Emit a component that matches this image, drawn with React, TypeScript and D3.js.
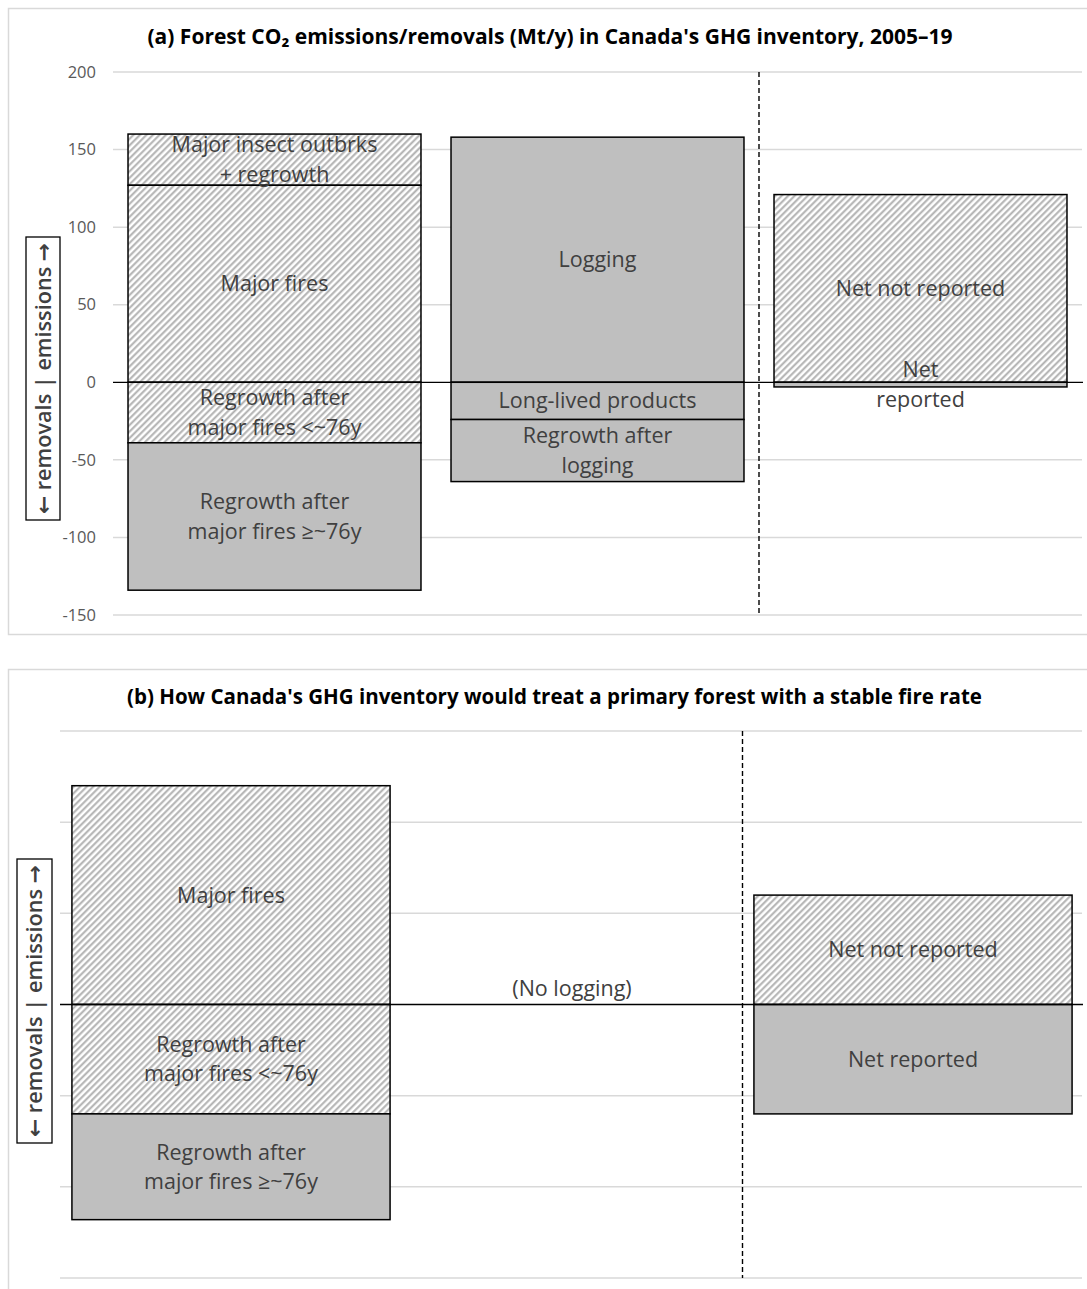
import React from "react";
import * as d3 from "d3";

// ---------- Data ----------
const categoriesA = ["fires", "logging", "net"];
const ticksA = [200, 150, 100, 50, 0, -50, -100, -150];
// segments: category, start value, end value, fill kind, label lines
const segCatA = ["fires", "fires", "fires", "fires", "logging", "logging", "logging", "net", "net"];
const segStartA = [127, 0, 0, -39, 0, 0, -24, 0, 0];
const segEndA = [160, 127, -39, -134, 158, -24, -64, 121, -3];
const segFillA = ["hatch", "hatch", "hatch", "gray", "gray", "gray", "gray", "hatch", "gray"];
const segLabelA = [
  ["Major insect outbrks", "+ regrowth"],
  ["Major fires"],
  ["Regrowth after", "major fires <~76y"],
  ["Regrowth after", "major fires \u2265~76y"],
  ["Logging"],
  ["Long-lived products"],
  ["Regrowth after", "logging"],
  ["Net not reported"],
  ["Net", "reported"],
];
const titleA = "(a) Forest CO\u2082 emissions/removals (Mt/y) in Canada's GHG inventory, 2005\u201319";

const categoriesB = ["fires", "logging", "net"];
const gridB = [150, 100, 50, 0, -50, -100, -150];
const segCatB = ["fires", "fires", "fires", "net", "net"];
const segStartB = [0, 0, -60, 0, 0];
const segEndB = [120, -60, -118, 60, -60];
const segFillB = ["hatch", "hatch", "gray", "hatch", "gray"];
const segLabelB = [
  ["Major fires"],
  ["Regrowth after", "major fires <~76y"],
  ["Regrowth after", "major fires \u2265~76y"],
  ["Net not reported"],
  ["Net reported"],
];
const noteB = { cat: "logging", value: 9, text: "(No logging)" };
const titleB = "(b) How Canada's GHG inventory would treat a primary forest with a stable fire rate";

// ---------- Styles ----------
const FONT = "'Open Sans', 'DejaVu Sans', sans-serif";
const GRAY = "#bfbfbf";
const GRID = "#d9d9d9";
const TEXT = "#404040";
const LINE_H = 29.5;

type PanelProps = {
  top: number;
  bottom: number;
  title: string;
  titleX: number;
  titleY: number;
  titleLen: number;
  categories: string[];
  xRange: [number, number];
  padInner: number;
  yDomain: [number, number];
  yRange: [number, number];
  grid: number[];
  showTicks: boolean;
  segCat: string[];
  segStart: number[];
  segEnd: number[];
  segFill: string[];
  segLabel: string[][];
  box: { x: number; y: number; w: number; h: number };
  gridX0: number;
  note?: { cat: string; value: number; text: string };
};

function Panel(p: PanelProps) {
  const x = d3
    .scaleBand<string>()
    .domain(p.categories)
    .range(p.xRange)
    .paddingInner(p.padInner)
    .paddingOuter(p.padInner / 2);
  const y = d3.scaleLinear().domain(p.yDomain).range(p.yRange);
  const step = x.step();
  const dashX = (x(p.categories[1]) as number) + x.bandwidth() + (step - x.bandwidth()) / 2;
  const yTop = y(p.yDomain[1]);
  const yBot = y(p.yDomain[0]);
  const boxCx = p.box.x + p.box.w / 2;
  const boxCy = p.box.y + p.box.h / 2;
  return (
    <g>
      <rect x={8.5} y={p.top + 0.5} width={1200} height={p.bottom - p.top} fill="#fff" stroke={GRID} strokeWidth={1.5} />
      <text
        x={p.titleX}
        y={p.titleY}
        textAnchor="middle"
        fontFamily={FONT}
        fontWeight={700}
        fontSize={21.5}
        fill="#000"
        textLength={p.titleLen}
        lengthAdjust="spacingAndGlyphs"
      >
        {p.title}
      </text>
      {p.grid.map((g) =>
        g === 0 ? null : (
          <line key={"g" + g} x1={p.gridX0} x2={1082} y1={y(g)} y2={y(g)} stroke={GRID} strokeWidth={1.5} />
        )
      )}
      {p.showTicks &&
        p.grid.map((g) => (
          <text key={"t" + g} x={96} y={y(g)} dy="0.35em" textAnchor="end" fontFamily={FONT} fontSize={16.5} fill="#595959">
            {g}
          </text>
        ))}
      {p.segCat.map((c, i) => {
        const x0 = x(c) as number;
        const ya = y(Math.max(p.segStart[i], p.segEnd[i]));
        const yb = y(Math.min(p.segStart[i], p.segEnd[i]));
        return (
          <rect
            key={"s" + i}
            x={x0}
            y={ya}
            width={x.bandwidth()}
            height={yb - ya}
            fill={p.segFill[i] === "hatch" ? "url(#hatch)" : GRAY}
            stroke="#000"
            strokeWidth={1.5}
          />
        );
      })}
      <line x1={p.gridX0} x2={1083} y1={y(0)} y2={y(0)} stroke="#000" strokeWidth={1.3} />
      {p.segCat.map((c, i) => {
        const cx = (x(c) as number) + x.bandwidth() / 2;
        const cy = y((p.segStart[i] + p.segEnd[i]) / 2);
        const lines = p.segLabel[i];
        const y0 = cy - ((lines.length - 1) * LINE_H) / 2;
        return (
          <text key={"l" + i} textAnchor="middle" fontFamily={FONT} fontSize={21.5} fill={TEXT}>
            {lines.map((ln, j) => (
              <tspan key={j} x={cx} y={y0 + j * LINE_H} dy="0.35em">
                {ln}
              </tspan>
            ))}
          </text>
        );
      })}
      {p.note && (
        <text
          x={(x(p.note.cat) as number) + x.bandwidth() / 2}
          y={y(p.note.value)}
          dy="0.35em"
          textAnchor="middle"
          fontFamily={FONT}
          fontSize={21.5}
          fill={TEXT}
        >
          {p.note.text}
        </text>
      )}
      <line x1={dashX} x2={dashX} y1={yTop} y2={yBot} stroke="#000" strokeWidth={1.4} strokeDasharray="5 3" />
      <rect x={p.box.x} y={p.box.y} width={p.box.w} height={p.box.h} fill="#fff" stroke="#000" strokeWidth={1.3} />
      <text
        transform={`translate(${boxCx},${boxCy}) rotate(-90)`}
        textAnchor="middle"
        dy="0.36em"
        fontFamily={FONT}
        fontWeight={600}
        fontSize={21}
        fill={TEXT}
        textLength={p.box.h - 12}
        lengthAdjust="spacingAndGlyphs"
      >
        {"\u2190 removals | emissions \u2192"}
      </text>
    </g>
  );
}

export default function App() {
  return (
    <svg
      width={1087}
      height={1289}
      style={{ position: "absolute", left: 0, top: 0, background: "#fff" }}
    >
      <defs>
        <pattern id="hatch" patternUnits="userSpaceOnUse" width={4.6} height={4.6} patternTransform="rotate(45)">
          <rect width={4.6} height={4.6} fill="#fff" />
          <line x1={1.2} y1={0} x2={1.2} y2={4.6} stroke="#b0b0b0" strokeWidth={2} />
        </pattern>
      </defs>
      <Panel
        top={8}
        bottom={634}
        title={titleA}
        titleX={550}
        titleY={44}
        titleLen={805}
        categories={categoriesA}
        xRange={[113, 1082]}
        padInner={0.093}
        yDomain={[-150, 200]}
        yRange={[615, 72]}
        grid={ticksA}
        showTicks={true}
        segCat={segCatA}
        segStart={segStartA}
        segEnd={segEndA}
        segFill={segFillA}
        segLabel={segLabelA}
        box={{ x: 26, y: 237, w: 34, h: 283 }}
        gridX0={113}
      />
      <Panel
        top={669}
        bottom={1400}
        title={titleB}
        titleX={554.5}
        titleY={704}
        titleLen={855}
        categories={categoriesB}
        xRange={[60.5, 1083.5]}
        padInner={0.067}
        yDomain={[-150, 150]}
        yRange={[1278, 731]}
        grid={gridB}
        showTicks={false}
        segCat={segCatB}
        segStart={segStartB}
        segEnd={segEndB}
        segFill={segFillB}
        segLabel={segLabelB}
        box={{ x: 17, y: 859, w: 35, h: 284 }}
        gridX0={60}
        note={noteB}
      />
    </svg>
  );
}
